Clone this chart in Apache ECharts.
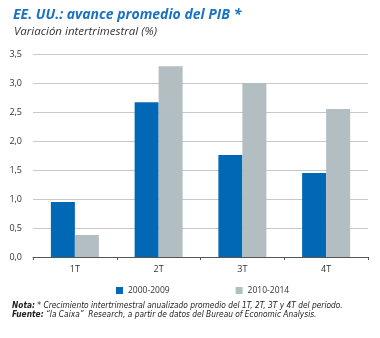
<!DOCTYPE html>
<html><head><meta charset="utf-8">
<script src="https://cdn.jsdelivr.net/npm/echarts@6/dist/echarts.min.js"></script>
<style>html,body{margin:0;padding:0;background:#fff}#c{width:380px;height:338px}</style>
</head><body><div id="c"></div>
<script>
const categories = ['1T','2T','3T','4T'];
const series2000 = [0.95, 2.67, 1.76, 1.45];
const series2010 = [0.38, 3.29, 3.00, 2.55];
const seriesNames = ['2000-2009','2010-2014'];
const yTicks = {min:0, max:3.5, interval:0.5};

const chart = echarts.init(document.getElementById('c'), null, {renderer:'canvas'});
const ff = '"Open Sans", "Noto Sans", sans-serif';
const nf = '"Liberation Sans Narrow", "DejaVu Sans Condensed", sans-serif';
chart.setOption({
  animation:false,
  title:[
    {text:'EE. UU.: avance promedio del PIB *', left:8, top:3,
     textStyle:{fontFamily:ff, fontSize:14, fontWeight:'bold', fontStyle:'italic', color:'#1a73c2'}},
    {text:'Variación intertrimestral (%)', left:9, top:21,
     textStyle:{fontFamily:ff, fontSize:11.5, fontWeight:'normal', fontStyle:'italic', color:'#333'}}
  ],
  grid:{left:33, right:12, top:54, bottom:81, containLabel:false},
  legend:{
    data:seriesNames, left:111, top:281, itemWidth:7, itemHeight:7, itemGap:66,
    icon:'rect', textStyle:{fontFamily:ff, fontSize:8.5, color:'#333'}
  },
  xAxis:{
    type:'category', data:categories,
    axisLine:{lineStyle:{color:'#555', width:1}},
    axisTick:{show:true, length:3, lineStyle:{color:'#555'}},
    axisLabel:{fontFamily:ff, fontSize:9, color:'#333', margin:8}
  },
  yAxis:{
    type:'value', min:yTicks.min, max:yTicks.max, interval:yTicks.interval,
    axisLine:{show:false}, axisTick:{show:false},
    splitLine:{lineStyle:{color:'#c8c8c8', width:1}},
    axisLabel:{fontFamily:ff, fontSize:9, color:'#333', margin:11,
      formatter:v=>v.toFixed(1).replace('.',',')}
  },
  series:[
    {name:seriesNames[0], type:'bar', data:series2000, barWidth:24, barGap:'0%',
     itemStyle:{color:'#0068b4'}},
    {name:seriesNames[1], type:'bar', data:series2010, barWidth:24,
     itemStyle:{color:'#b3bec3'}}
  ],
  graphic:[
    {type:'text', left:12, top:302, style:{
      text:'{b|Nota:} * Crecimiento intertrimestral anualizado promedio del 1T, 2T, 3T y 4T del periodo.',
      rich:{b:{fontWeight:'bold', fontStyle:'italic', fontSize:8.3, fontFamily:nf, fill:'#222'}},
      font:'italic 8.3px ' + nf, fill:'#222'}},
    {type:'text', left:12, top:311, style:{
      text:'{b|Fuente:} “la Caixa”  Research, a partir de datos del Bureau of Economic Analysis.',
      rich:{b:{fontWeight:'bold', fontStyle:'italic', fontSize:8.3, fontFamily:nf, fill:'#222'}},
      font:'italic 8.3px ' + nf, fill:'#222'}}
  ]
});
</script></body></html>
